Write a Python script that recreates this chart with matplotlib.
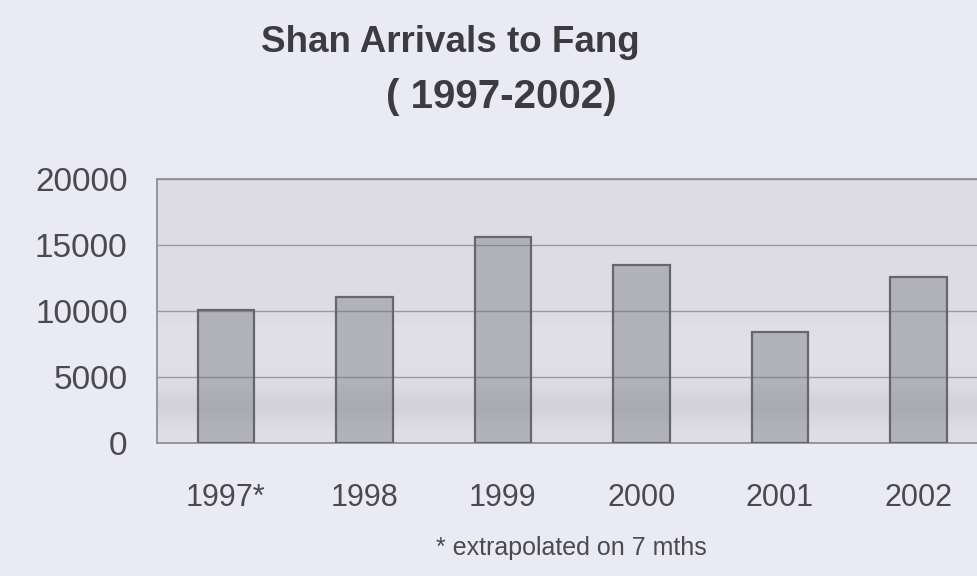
import numpy as np
import matplotlib
matplotlib.use("Agg")
import matplotlib.pyplot as plt

# Data
years = ["1997*", "1998", "1999", "2000", "2001", "2002"]
arrivals = [10100, 11100, 15600, 13500, 8450, 12600]
y_ticks = [0, 5000, 10000, 15000, 20000]
title_line1 = "Shan Arrivals to Fang"
title_line2 = "( 1997-2002)"
footnote = "* extrapolated on 7 mths"

plt.rcParams['font.family'] = ['Liberation Sans', 'DejaVu Sans']

fig = plt.figure(figsize=(9.78, 5.76), dpi=100)
fig.patch.set_facecolor('#e9eaf3')

ax = fig.add_axes([0.1602, 0.2309, 0.8497, 0.4575])
ax.set_facecolor('#dcdce2')

# subtle scanned-paper shading of the plot area (vertical gradient, axes coords)
yy = np.linspace(0, 1, 200)
shade = 0.875 - 0.05 * np.exp(-((yy - 0.14) / 0.07) ** 2) - 0.01 * (yy > 0.45)
rgb = np.stack([shade, shade, shade + 0.025], axis=-1)[:, None, :]
rgb = np.clip(rgb, 0, 1)
ax.imshow(rgb, extent=[0, 1, 0, 1], transform=ax.transAxes, aspect='auto',
          origin='lower', zorder=0)

x = np.arange(len(years))
ax.bar(x, arrivals, width=0.41, color=(0.42, 0.42, 0.47, 0.38),
       edgecolor='#66666c', linewidth=1.6, zorder=3)

ax.set_xlim(-0.5, len(years) - 0.5)
ax.set_ylim(0, 20000)
ax.set_yticks(y_ticks)
ax.set_yticklabels([str(v) for v in y_ticks])
ax.set_xticks(x)
ax.set_xticklabels(years)
ax.yaxis.grid(True, color='#9a9aa2', linewidth=1.0, zorder=1)
ax.set_axisbelow(True)

ax.tick_params(axis='y', length=0, pad=21, labelsize=24, labelcolor='#4a4a4e')
ax.tick_params(axis='x', length=0, pad=29, labelsize=22, labelcolor='#4a4a4e')

for side in ['left', 'bottom', 'top']:
    ax.spines[side].set_color('#8a8a90')
    ax.spines[side].set_linewidth(1.2)
ax.spines['right'].set_visible(False)

fig.text(450 / 978, 1 - 43 / 576, title_line1, ha='center', va='center',
         fontsize=26.5, fontweight='bold', color='#3c3c40')
fig.text(501 / 978, 1 - 97 / 576, title_line2, ha='center', va='center',
         fontsize=29, fontweight='bold', color='#3c3c40')
fig.text(571 / 978, 1 - 548 / 576, footnote, ha='center', va='center',
         fontsize=18, color='#4a4a4e')

fig.savefig('out.png', dpi=100, facecolor=fig.get_facecolor())
